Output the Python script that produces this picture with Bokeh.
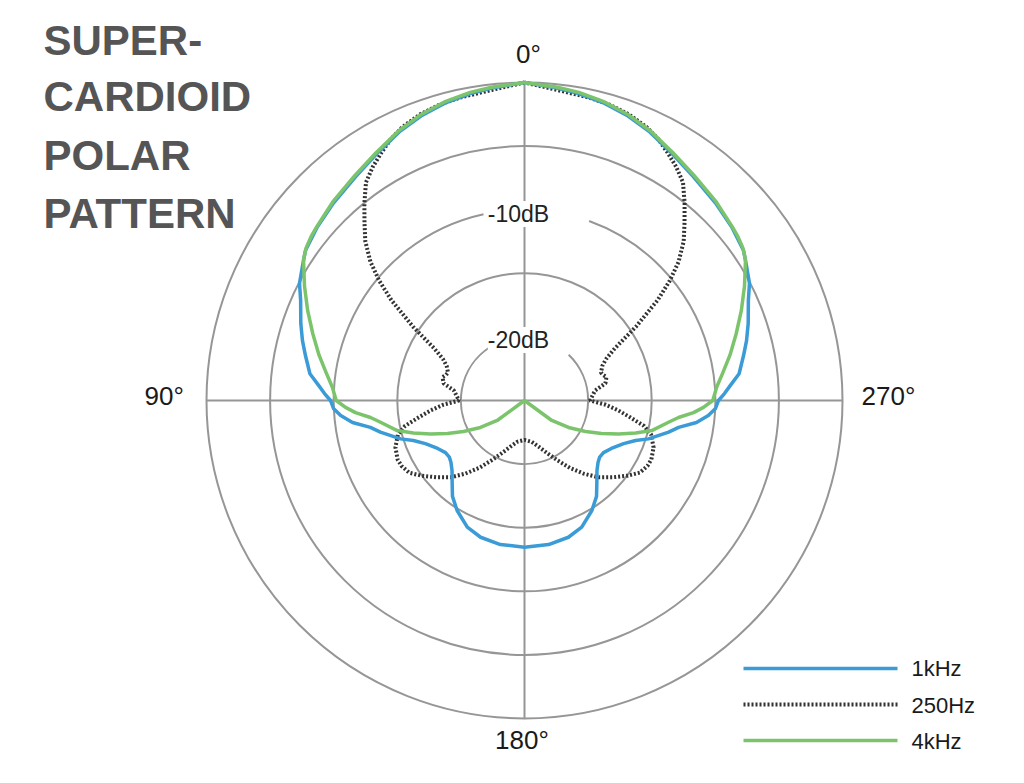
import numpy as np
from bokeh.plotting import figure
from bokeh.models import Range1d, Label
from bokeh.embed import file_html
from bokeh.resources import INLINE

# ---------------- data (half pattern 0..180 deg, mirrored) ----------------
ang_1k = [0, 6, 10, 15, 20, 25, 31, 37, 44, 50, 55.6, 58.7, 62.5, 65.9, 71, 74.9, 78.4,
          82.9, 85.8, 88, 90,
          92.4, 94.7, 97.3, 99.9, 102.4, 107.2, 109.8, 113.5, 118.9, 123.4, 127, 130,
          134, 138.9, 143.1, 148.5, 155.7, 162.2, 170.5, 180]
db_1k = [0, -0.3, -0.5, -0.8, -1.2, -1.7, -2.4, -2.95, -3.4, -3.75, -4.13, -4.58, -5.06,
         -5.72, -6.4, -6.92, -7.42, -8.0, -8.77, -9.27, -9.75,
         -9.97, -10.5, -11.37, -12.7, -13.4, -14.8, -15.72, -16.5, -17.2, -17.56, -17.6,
         -17.45, -17.08, -16.35, -15.57, -14.86, -14.07, -13.71, -13.52, -13.47]

ang_250 = [0, 6, 12, 16, 20, 24, 27, 30, 33, 36, 39, 42, 45, 48, 50.5, 53, 56.5, 60, 63,
           66, 70, 72, 74, 76, 78, 82, 87, 90,
           93, 96, 99, 102, 105, 110, 115, 118, 122, 126, 131, 136, 141, 146, 151, 156,
           163, 170, 180]
db_250 = [0, -0.45, -0.65, -0.8, -1.05, -1.45, -1.9, -2.5, -3.1, -3.8, -5.0, -6.2, -7.3,
          -8.7, -10.2, -11.9, -14.5, -16.8, -17.8, -18.3, -18.6, -18.5, -18.3, -18.4,
          -18.5, -19.4, -19.7, -19.85,
          -18.6, -17.6, -16.6, -15.4, -14.7, -14.2, -14.0, -14.05, -14.3, -14.95, -15.8,
          -16.6, -17.6, -18.6, -19.6, -20.4, -21.2, -21.7, -21.9]

ang_4k = [0, 6, 10, 15, 20, 25, 31, 37, 44, 50, 52.5, 55, 57.5, 62.5, 67.5, 72.5, 77.5,
          82, 86, 90,
          92.2, 94.1, 96.3, 98.6, 103.3, 106.3, 109.6, 113.2, 116.9, 121.5, 126.2, 127, 180]
db_4k = [0, -0.24, -0.4, -0.7, -1.1, -1.6, -2.3, -2.85, -3.3, -3.7, -3.85, -4.05, -4.4,
         -5.5, -6.55, -7.55, -8.45, -9.25, -9.85, -10.2,
         -10.92, -11.68, -12.82, -13.55, -14.72, -15.9, -17.15, -18.41, -19.62, -20.94,
         -22.34, -25.0, -25.0]

ring_db = [-20, -15, -10, -5, 0]
ring_labels = ["-20dB", "-10dB"]
angle_labels = ["0°", "90°", "180°", "270°"]
series_names = ["1kHz", "250Hz", "4kHz"]
title_lines = ["SUPER-", "CARDIOID", "POLAR", "PATTERN"]

FLOOR = -25.0

# ---------------- layout helpers (page pixel -> data) ----------------
CX, CY, RPX = 524.0, 400.0, 318.0
W, H = 1008, 767
def X(px):
    return (px - CX) / RPX
def Y(py):
    return (CY - py) / RPX

def rad(db):
    return max(0.0, (db - FLOOR) / (-FLOOR))

def to_xy(angles, dbs):
    a = np.array(angles, float)
    d = np.array(dbs, float)
    fa = np.concatenate([a, 360.0 - a[::-1][1:]])
    fd = np.concatenate([d, d[::-1][1:]])
    r = np.clip((fd - FLOOR) / (-FLOOR), 0, None)
    t = np.radians(fa)
    return -r * np.sin(t), r * np.cos(t)

p = figure(width=W, height=H, output_backend="svg", toolbar_location=None,
           x_range=Range1d(X(0), X(W)), y_range=Range1d(Y(H), Y(0)),
           x_axis_type=None, y_axis_type=None, min_border=0)
p.outline_line_color = None
p.background_fill_color = "white"
p.border_fill_color = "white"

GRID = "#969696"
for db in ring_db:
    r = rad(db)
    if db == -10:
        s, e = np.radians(90 + 12.4), np.radians(90 - 19.8)
    elif db == -20:
        s, e = np.radians(90 + 32.7), np.radians(90 - 44.0)
    else:
        s, e = 0.0, 2 * np.pi
    p.arc(x=0, y=0, radius=r, start_angle=s, end_angle=e, direction="anticlock",
          line_color=GRID, line_width=2)

p.segment(x0=[-1, 0], y0=[0, -1], x1=[1, 0], y1=[0, 1], line_color=GRID, line_width=2)

BLUE = "#3a9bd6"
GREEN = "#7cc46c"
DOT = "#333333"
x2, y2 = to_xy(ang_250, db_250)
p.line(x2, y2, line_color=DOT, line_width=4, line_dash="2 2")
x1, y1 = to_xy(ang_1k, db_1k)
p.line(x1, y1, line_color=BLUE, line_width=3.5, line_join="round")
x4, y4 = to_xy(ang_4k, db_4k)
p.line(x4, y4, line_color=GREEN, line_width=3.5, line_join="round")

FONT = "Liberation Sans"

def lab(txt, px, py, size, align="left", **kw):
    # py is the visual centre of the capitals; "middle" sits ~0.07em low
    p.add_layout(Label(x=X(px), y=Y(py - 0.07 * size), text=txt, text_align=align,
                       text_baseline="middle", text_font=FONT,
                       text_font_size=f"{size}px", **kw))

for txt, yy in zip(ring_labels, [341, 215]):
    lab(txt, 518, yy, 23, align="center", text_color="#222222",
        background_fill_color="white")

for txt, px, py in zip(angle_labels, [515.5, 144, 494.5, 861], [55, 397, 741.7, 397]):
    lab(txt, px, py, 26, text_color="#1a1a1a")

for txt, py in zip(title_lines, [42.5, 99, 157.5, 216]):
    lab(txt, 43, py, 42, text_font_style="bold", text_color="#555555")

leg_y = [668, 704, 740]
leg_txt_y = [670, 707, 742.5]
styles = [dict(line_color=BLUE, line_width=3.5),
          dict(line_color=DOT, line_width=4, line_dash="2 2"),
          dict(line_color=GREEN, line_width=3.5)]
for name, ly, ty, st in zip(series_names, leg_y, leg_txt_y, styles):
    p.line([X(743), X(897)], [Y(ly), Y(ly)], **st)
    lab(name, 911, ty, 22, text_color="#1a1a1a")

open("out.html", "w").write(file_html(p, INLINE))
